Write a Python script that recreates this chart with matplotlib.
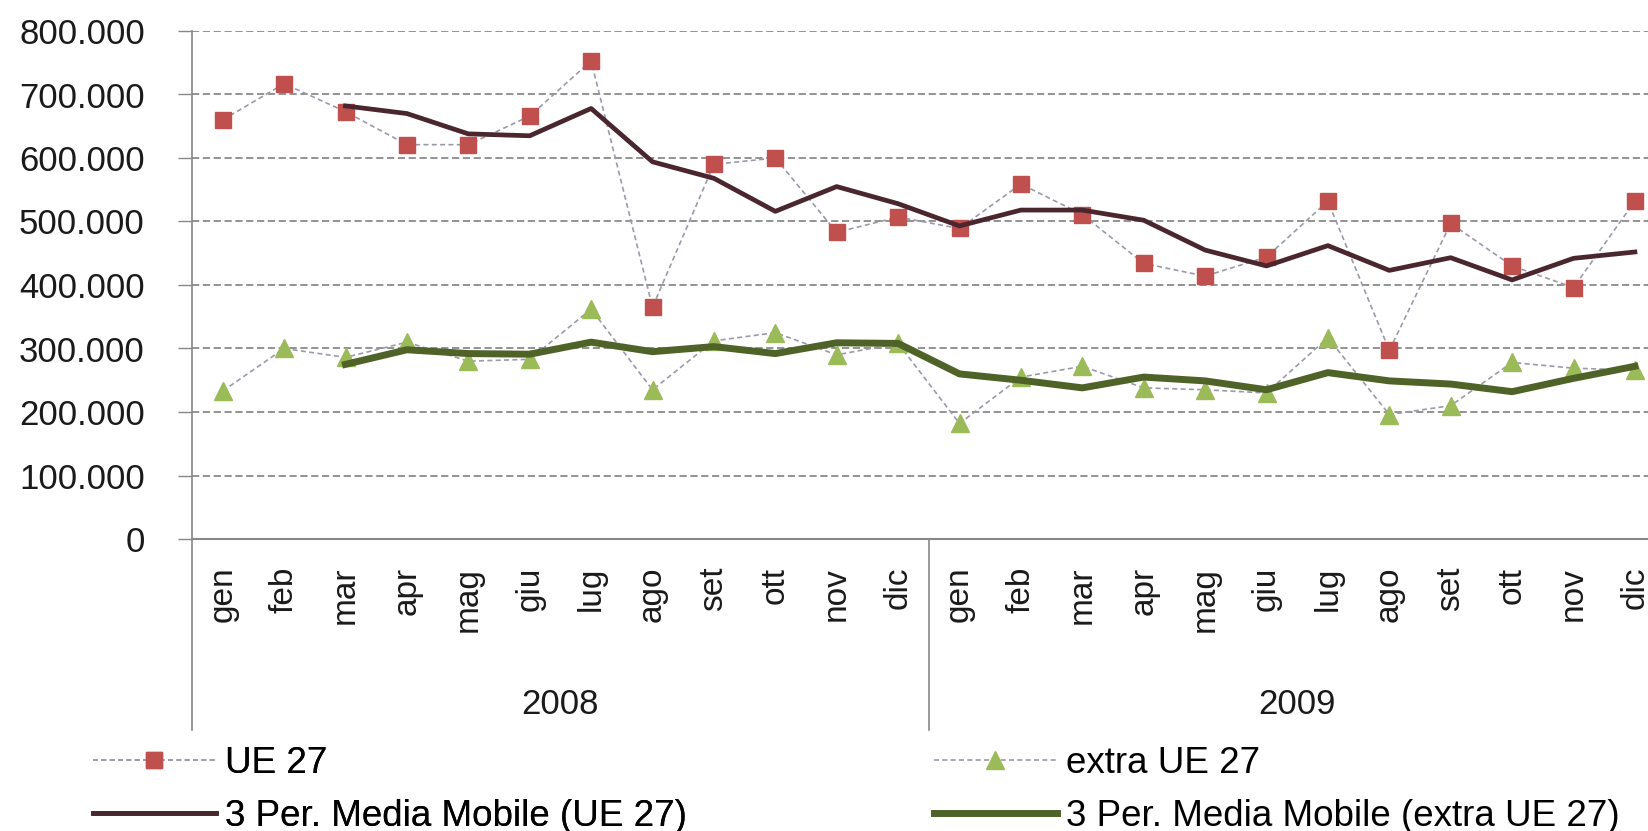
import matplotlib.pyplot as plt
import matplotlib.transforms as mtransforms

plt.rcParams['font.family'] = ['Liberation Sans', 'DejaVu Sans']

months = ['gen', 'feb', 'mar', 'apr', 'mag', 'giu', 'lug', 'ago', 'set', 'ott', 'nov', 'dic']
years = ['2008', '2009']

ue27 = [660, 717, 673, 621, 621, 666, 753, 365, 590, 600, 483, 507,
        489, 559, 511, 434, 414, 444, 532, 297, 497, 430, 396, 532]
extra_ue27 = [233, 300, 286, 310, 280, 283, 362, 235, 312, 325, 290, 308,
              182, 255, 272, 238, 235, 230, 317, 196, 210, 278, 269, 266]
# 3 period moving averages (first two months empty)
ma_ue27 = [None, None, 682, 670, 638, 635, 678, 594, 568, 516, 555, 528,
           493, 518, 518, 502, 455, 430, 462, 423, 443, 408, 442, 452]
ma_extra = [None, None, 275, 298, 292, 291, 310, 295, 303, 292, 309, 308,
            260, 250, 238, 255, 249, 235, 262, 249, 244, 232, 253, 272]

ue27 = [v * 1000 for v in ue27]
extra_ue27 = [v * 1000 for v in extra_ue27]
ma_ue27 = [None if v is None else v * 1000 for v in ma_ue27]
ma_extra = [None if v is None else v * 1000 for v in ma_extra]

labels = months * len(years)
x = list(range(len(labels)))

fig = plt.figure(figsize=(16.48, 8.31), dpi=100)
ax = fig.add_axes([192 / 1648, 1 - 539 / 831, 1473.6 / 1648, 508 / 831])

dash = (0, (3, 2))
l1, = ax.plot(x, ue27, linestyle=dash, color='#9a9aaa', lw=1.2,
              marker='s', markersize=11, markerfacecolor='#C0504D',
              markeredgecolor='#C0504D', label='UE 27', zorder=3)
l3, = ax.plot(x, extra_ue27, linestyle=dash, color='#9a9aaa', lw=1.2,
              marker='^', markersize=13, markerfacecolor='#9BBB59',
              markeredgecolor='#9BBB59', label='extra UE 27', zorder=3)
xm = [i for i, v in zip(x, ma_ue27) if v is not None]
l2, = ax.plot(xm, [v for v in ma_ue27 if v is not None], color='#4A262E',
              lw=3.4, label='3 Per. Media Mobile (UE 27)', zorder=4)
l4, = ax.plot(xm, [v for v in ma_extra if v is not None], color='#4F6228',
              lw=5, label='3 Per. Media Mobile (extra UE 27)', zorder=4)

ax.set_xlim(-0.5, len(labels) - 0.5)
ax.set_ylim(0, 800000)
ax.set_yticks(range(0, 800001, 100000))
ax.set_yticklabels(['0'] + ['{:d}.000'.format(v) for v in range(100, 801, 100)])
ax.tick_params(axis='y', length=10, width=1, color='#888888', pad=24,
               labelsize=25, labelcolor='#1a1a1a')
ax.set_xticks(x)
ax.set_xticklabels(labels, rotation=90)
ax.tick_params(axis='x', length=0, pad=20, labelsize=24, labelcolor='#1a1a1a')

ax.grid(axis='y', color='#8a8a8a', linestyle=(0, (4, 2)), lw=1.3)
ax.set_axisbelow(True)
for s in ['top', 'right']:
    ax.spines[s].set_visible(False)
ax.spines['left'].set_color('#888888')
ax.spines['bottom'].set_color('#888888')
ax.spines['left'].set_linewidth(1.2)
ax.spines['bottom'].set_linewidth(1.5)

# year level of the category axis
trans = mtransforms.blended_transform_factory(ax.transData, ax.transAxes)
for i, yr in enumerate(years):
    ax.text(i * 12 + 5.5, -0.325, yr, transform=trans, ha='center', va='center',
            fontsize=25, color='#1a1a1a')
for xs in [-0.5, 11.5, 23.5]:
    ax.plot([xs, xs], [0, -0.376], transform=trans, color='#888888', lw=1.2,
            clip_on=False)

leg_kw = dict(loc='upper left', frameon=False, fontsize=26.5, handlelength=3.34,
              handletextpad=0.25, labelspacing=0.49, borderpad=0, borderaxespad=0)
leg1 = fig.legend(handles=[l1, l2], bbox_to_anchor=(93 / 1648, 1 - 746 / 831), **leg_kw)
leg2 = fig.legend(handles=[l3, l4], bbox_to_anchor=(934 / 1648, 1 - 746 / 831), **leg_kw)
fig.add_artist(leg1)

fig.savefig('out.png', dpi=100)
